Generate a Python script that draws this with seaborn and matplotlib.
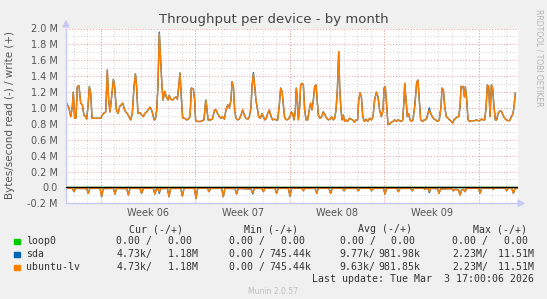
import numpy as np
import pandas as pd
import matplotlib
matplotlib.use('Agg')
import matplotlib.pyplot as plt
import seaborn as sns
from matplotlib.patches import Rectangle, Polygon

sns.set_theme(style='white')
plt.rcParams['font.family'] = ['DejaVu Sans']

# ---------------- data (days since left edge, values in MB/s) ----------------
write_days = [0.00, 0.05, 0.22, 0.35, 0.47, 0.54, 0.64, 0.74, 0.84, 0.96, 1.09, 1.21, 1.33, 1.46, 1.53,
              1.63, 1.73, 1.83, 1.93, 1.98, 2.57, 2.69, 2.77, 2.94, 3.06, 3.16, 3.26, 3.38, 3.51,
              3.60, 3.73, 3.85, 3.98, 4.10, 4.20, 4.30, 4.42, 4.54, 4.67, 4.79, 4.91, 5.04, 5.14,
              5.23, 5.33, 5.48, 5.60, 5.73, 5.83, 5.98, 6.07, 6.22, 6.32, 6.42, 6.52, 6.62, 6.72,
              6.81, 6.91, 7.01, 7.11, 7.19, 7.31, 7.43, 7.56, 7.65, 7.75, 7.88, 8.00, 8.15, 8.25,
              8.35, 8.44, 8.54, 8.64, 8.79, 8.94, 9.06, 9.19, 9.28, 9.43, 9.53, 9.60, 9.68, 9.98,
              10.22, 10.35, 10.42, 10.52, 10.72, 10.84, 11.01, 11.11, 11.23, 11.36, 11.48, 11.60,
              11.73, 11.85, 11.98, 12.10, 12.22, 12.30, 12.40, 12.49, 12.59, 12.72, 12.84, 12.96,
              13.09, 13.21, 13.33, 13.48, 13.58, 13.70, 13.78, 13.88, 13.98, 14.07, 14.17, 14.27,
              14.40, 14.52, 14.62, 14.72, 14.81, 14.94, 15.06, 15.19, 15.31, 15.43, 15.56, 15.68,
              15.80, 15.90, 16.00, 16.10, 16.20, 16.35, 16.47, 16.59, 16.69, 16.79, 16.89, 16.99,
              17.06, 17.14, 17.21, 17.31, 17.38, 17.48, 17.58, 17.68, 17.78, 17.90, 18.02, 18.12,
              18.22, 18.32, 18.42, 18.52, 18.59, 18.69, 18.81, 18.94, 19.06, 19.19, 19.31, 19.43,
              19.56, 19.68, 19.80, 19.90, 20.00, 20.10, 20.20, 20.27, 20.35, 20.44, 20.54, 20.64,
              20.74, 20.86, 20.99, 21.11, 21.23, 21.36, 21.48, 21.60, 21.68, 21.78, 21.88, 21.98,
              22.10, 22.22, 22.35, 22.49, 22.62, 22.74, 22.86, 22.99, 23.11, 23.23, 23.36, 23.48,
              23.56, 23.65, 23.75, 23.85, 23.98, 24.10, 24.22, 24.35, 24.47, 24.59, 24.72, 24.84,
              24.94, 25.04, 25.09, 25.19, 25.28, 25.38, 25.48, 25.58, 25.70, 25.83, 25.98, 26.07,
              26.17, 26.27, 26.40, 26.52, 26.62, 26.72, 26.81, 26.91, 27.01, 27.14, 27.26, 27.38,
              27.51, 27.65, 27.78, 27.85, 27.95, 28.05, 28.17, 28.30, 28.42, 28.54, 28.64, 28.74,
              28.86, 28.99, 29.09, 29.19, 29.26, 29.41, 29.51, 29.58, 29.68, 29.78, 29.90, 30.02,
              30.15, 30.27, 30.40, 30.52, 30.64, 30.77, 30.89, 31.01, 31.11, 31.21, 31.31, 31.41,
              31.51, 31.60, 31.70, 31.80, 31.90, 32.00, 32.12, 32.25, 32.37, 32.49, 32.62, 32.74,
              32.86, 32.99, 33.11, 33.19, 33.28]
write_vals = [1.08, 1.06, 1.00, 0.89, 1.02, 1.20, 0.87, 0.87, 1.27, 1.28, 1.06, 1.04, 0.91, 0.89, 0.86,
              1.02, 1.27, 1.18, 0.87, 0.87, 0.87, 0.91, 0.93, 0.95, 1.48, 1.10, 0.95, 1.14, 1.36,
              1.27, 0.98, 0.93, 1.02, 1.04, 1.06, 1.00, 0.95, 0.93, 0.89, 0.85, 0.93, 1.27, 1.43,
              1.27, 0.93, 0.94, 0.91, 0.89, 0.93, 0.95, 0.975, 1.01, 0.98, 0.93, 0.85, 0.86, 0.975,
              1.27, 1.94, 1.60, 1.27, 1.10, 1.21, 1.14, 1.10, 1.16, 1.11, 1.10, 1.12, 1.14, 1.11,
              1.27, 1.44, 1.14, 0.87, 0.87, 0.85, 0.86, 0.89, 1.25, 1.24, 1.10, 0.85, 0.83, 0.83,
              0.85, 1.10, 1.02, 0.85, 0.85, 0.86, 0.975, 0.975, 0.93, 0.89, 0.87, 0.89,
              0.86, 0.975, 1.04, 1.00, 1.10, 1.33, 1.27, 0.975, 0.87, 0.85, 0.86, 0.91,
              0.975, 0.91, 0.87, 0.86, 0.89, 1.00, 1.27, 1.43, 1.27, 1.10, 1.00, 0.89,
              0.87, 0.93, 0.89, 0.85, 0.86, 0.93, 0.975, 0.89, 0.85, 0.86, 0.85, 0.85,
              1.04, 1.25, 1.21, 1.04, 0.87, 0.85, 0.86, 0.89, 0.95, 0.93, 0.85, 0.975,
              1.25, 1.10, 0.85, 1.02, 1.29, 1.31, 1.29, 0.975, 0.85, 0.85, 0.975, 1.06,
              0.975, 1.10, 1.27, 1.29, 1.14, 0.91, 0.87, 0.89, 0.95, 0.91, 0.87, 0.85,
              0.86, 0.89, 0.85, 0.87, 0.975, 1.23, 1.71, 1.27, 1.02, 0.85, 0.91, 0.83,
              0.85, 0.83, 0.87, 0.86, 0.85, 0.82, 0.85, 0.85, 1.10, 1.19, 1.14, 0.89,
              0.83, 0.86, 0.83, 0.87, 0.85, 0.89, 1.10, 1.20, 1.14, 0.975, 0.89, 0.975,
              1.25, 1.27, 1.02, 0.79, 0.80, 0.82, 0.83, 0.85, 0.83, 0.85, 0.84, 0.83,
              0.85, 1.10, 1.31, 1.10, 0.89, 0.93, 0.85, 0.83, 0.85, 1.02, 1.33, 1.35,
              1.10, 0.85, 0.83, 0.85, 0.85, 0.87, 0.93, 0.975, 0.93, 0.89, 0.86, 0.85,
              0.83, 0.85, 1.02, 1.25, 1.23, 1.02, 0.89, 0.87, 0.85, 0.83, 0.81, 0.85,
              0.87, 0.89, 0.89, 1.02, 1.27, 1.27, 1.14, 1.27, 1.10, 0.85, 0.83, 0.84,
              0.84, 0.84, 0.85, 0.84, 0.84, 0.86, 0.85, 0.85, 0.996, 1.29, 1.27, 0.89,
              1.29, 1.25, 1.02, 0.85, 0.85, 0.93, 0.96, 0.96, 0.91, 0.87, 0.85, 0.84,
              0.84, 0.89, 0.93, 1.02, 1.19]
# sda differs from ubuntu-lv only at a few samples (day -> value)
sda_write_diffs = {6.91: 1.955, 13.88: 1.445, 26.91: 1.00}

read_days = [0.00, 0.47, 0.59, 0.71, 1.53, 1.65, 1.77, 2.52, 2.64, 2.76, 3.51, 3.63, 3.75,
             4.50, 4.62, 4.74, 5.48, 5.60, 5.72, 6.47, 6.59, 6.71, 6.81, 6.91, 7.01,
             7.51, 7.63, 7.75, 8.50, 8.62, 8.74, 9.51, 9.63, 9.75, 10.47, 10.59, 10.71,
             11.53, 11.65, 11.77, 12.52, 12.64, 12.76, 13.71, 13.83, 13.95, 14.50, 14.62, 14.74,
             15.48, 15.60, 15.72, 16.47, 16.59, 16.71, 17.46, 17.58, 17.70, 18.45, 18.57, 18.69,
             19.48, 19.60, 19.72, 20.47, 20.59, 20.71, 21.53, 21.65, 21.77, 22.52, 22.64, 22.76,
             23.51, 23.63, 23.75, 24.50, 24.62, 24.74, 25.53, 25.65, 25.77, 26.47, 26.59, 26.71,
             26.81, 26.91, 27.01, 27.51, 27.63, 27.75, 28.57, 28.69, 28.81, 29.07, 29.19, 29.31,
             29.44, 29.56, 29.68, 30.55, 30.67, 30.79, 31.53, 31.65, 31.77, 32.52, 32.64, 32.76,
             33.02, 33.14, 33.26, 33.48]
read_vals = [-0.010, -0.012, -0.054, -0.012, -0.014, -0.075, -0.012, -0.012, -0.117, -0.014, -0.012, -0.083, -0.012,
             -0.015, -0.096, -0.012, -0.012, -0.075, -0.012, -0.012, -0.083, -0.015, -0.012, -0.060, -0.014,
             -0.012, -0.117, -0.012, -0.012, -0.108, -0.012, -0.012, -0.140, -0.012, -0.010, -0.054, -0.012,
             -0.012, -0.117, -0.012, -0.014, -0.083, -0.012, -0.020, -0.070, -0.012, -0.012, -0.054, -0.010,
             -0.012, -0.075, -0.012, -0.012, -0.108, -0.012, -0.010, -0.042, -0.012, -0.012, -0.075, -0.010,
             -0.012, -0.075, -0.012, -0.010, -0.042, -0.012, -0.012, -0.042, -0.010, -0.012, -0.042, -0.012,
             -0.012, -0.083, -0.012, -0.010, -0.054, -0.012, -0.012, -0.042, -0.012, -0.008, -0.025, -0.010,
             -0.012, -0.054, -0.012, -0.015, -0.075, -0.020, -0.015, -0.042, -0.025, -0.030, -0.096, -0.030,
             -0.025, -0.054, -0.012, -0.010, -0.075, -0.010, -0.005, -0.025, -0.005, -0.010, -0.042, -0.010,
             -0.012, -0.075, -0.012, -0.010]
sda_read_diffs = {6.91: -0.075, 13.83: -0.082, 26.91: -0.066}

loop0_days = [0.00, 33.48]
loop0_vals = [0.0, 0.0]

week_bounds = [2.59, 9.59, 16.59, 23.59, 30.59]
day_lines = [0.59 + i for i in range(33)]
week_label_pos = [6.09, 13.09, 20.09, 27.09]
week_labels = ['Week 06', 'Week 07', 'Week 08', 'Week 09']
y_ticks = [-0.2, 0.0, 0.2, 0.4, 0.6, 0.8, 1.0, 1.2, 1.4, 1.6, 1.8, 2.0]
y_labels = ['-0.2 M', '0.0', '0.2 M', '0.4 M', '0.6 M', '0.8 M', '1.0 M', '1.2 M', '1.4 M',
            '1.6 M', '1.8 M', '2.0 M']
y_minor = [-0.1, 0.1, 0.3, 0.5, 0.7, 0.9, 1.1, 1.3, 1.5, 1.7, 1.9]

devices = ['loop0', 'sda', 'ubuntu-lv']
colors = {'loop0': '#00CC00', 'sda': '#0066B3', 'ubuntu-lv': '#FF8000'}
cur_r = ['0.00 /', '4.73k/', '4.73k/']
cur_w = ['  0.00 ', '  1.18M', '  1.18M']
min_r = ['0.00 /', '0.00 /', '0.00 /']
min_w = ['  0.00 ', '745.44k', '745.44k']
avg_r = ['0.00 /', '9.77k/', '9.63k/']
avg_w = ['  0.00 ', '981.98k', '981.85k']
max_r = ['0.00 /', '2.23M/', '2.23M/']
max_w = ['  0.00 ', ' 11.51M', ' 11.51M']

# ---------------- build frames ----------------
ulv_w = pd.DataFrame({'day': write_days, 'v': write_vals})
sda_w = ulv_w.copy()
for d, v in sda_write_diffs.items():
    sda_w.loc[np.isclose(sda_w['day'], d), 'v'] = v
ulv_r = pd.DataFrame({'day': read_days, 'v': read_vals})
sda_r = ulv_r.copy()
for d, v in sda_read_diffs.items():
    sda_r.loc[np.isclose(sda_r['day'], d), 'v'] = v
loop = pd.DataFrame({'day': loop0_days, 'v': loop0_vals})

# ---------------- figure ----------------
W, H = 547, 299
fig = plt.figure(figsize=(W / 100, H / 100), dpi=100, facecolor='#f0f0f0')
L, R, T, B = 66, 518, 28.5, 203.3
ax = fig.add_axes([L / W, 1 - B / H, (R - L) / W, (B - T) / H])
ax.set_facecolor('white')

ax.set_xlim(0, 33.48)
ax.set_ylim(-0.2, 2.0)

# grid
for d in day_lines:
    ax.axvline(d, color='#d2d2d2', lw=0.7, ls=(0, (1, 2)), zorder=0)
for d in week_bounds:
    ax.axvline(d, color='#ee9a9a', lw=0.7, ls=(0, (1, 2)), zorder=0.5)
for y in y_minor:
    ax.axhline(y, color='#d2d2d2', lw=0.7, ls=(0, (1, 2)), zorder=0)
for y in y_ticks:
    ax.axhline(y, color='#ee9a9a', lw=0.7, ls=(0, (1, 2)), zorder=0.5)

kw = dict(estimator=None, sort=False, legend=False, ax=ax, lw=1.0)
sns.lineplot(data=loop, x='day', y='v', color=colors['loop0'], **kw)
sns.lineplot(data=sda_w, x='day', y='v', color=colors['sda'], **kw)
sns.lineplot(data=sda_r, x='day', y='v', color=colors['sda'], **kw)
sns.lineplot(data=ulv_w, x='day', y='v', color=colors['ubuntu-lv'], **kw)
sns.lineplot(data=ulv_r, x='day', y='v', color=colors['ubuntu-lv'], **kw)
ax.axhline(0, color='black', lw=1.0, zorder=5)

ax.set_xlabel('')
ax.set_ylabel('')
ax.set_xticks([])
ax.set_yticks(y_ticks)
ax.set_yticklabels(y_labels)
ax.tick_params(axis='y', length=0, pad=6, labelsize=7, labelcolor='#555555')
for lx, lab in zip(week_label_pos, week_labels):
    ax.text(lx, -0.055, lab, transform=ax.get_xaxis_transform(), ha='center', va='center',
            fontsize=7, color='#555555')

for s in ['top', 'right']:
    ax.spines[s].set_visible(False)
for s in ['left', 'bottom']:
    ax.spines[s].set_color('#c8c8f4')
    ax.spines[s].set_linewidth(1.0)

# axis arrows
fig.patches.append(Polygon([[(L - 3) / W, 1 - 27 / H], [(L + 3) / W, 1 - 27 / H], [L / W, 1 - 21 / H]],
                           closed=True, transform=fig.transFigure, color='#c8c8f4'))
fig.patches.append(Polygon([[R / W, 1 - (B - 3) / H], [R / W, 1 - (B + 3) / H], [(R + 6) / W, 1 - B / H]],
                           closed=True, transform=fig.transFigure, color='#c8c8f4'))

def ft(x, y, s, **k):
    fig.text(x / W, 1 - y / H, s, **k)

ft(W / 2, 19.5, 'Throughput per device - by month', ha='center', va='center', fontsize=9.5, color='#444444')
ft(10, 115, 'Bytes/second read (-) / write (+)', ha='center', va='center', rotation=90,
   fontsize=7.5, color='#555555')
ft(539, 58, 'RRDTOOL / TOBI OETIKER', ha='center', va='center', rotation=270, fontsize=5.5, color='#b4b4b4')

mono = dict(family='DejaVu Sans Mono', fontsize=7.15, color='#333333', va='center', ha='left')
hdr_y = 229.2
ft(129.1, hdr_y, 'Cur (-/+)', **mono)
ft(243.6, hdr_y, 'Min (-/+)', **mono)
ft(358.5, hdr_y, 'Avg (-/+)', **mono)
ft(473.0, hdr_y, 'Max (-/+)', **mono)
row_y = [241.4, 254.3, 267.3]
for i, dev in enumerate(devices):
    y = row_y[i]
    fig.patches.append(Rectangle((14 / W, 1 - (y + 3) / H), 5.5 / W, 5.5 / H,
                                 transform=fig.transFigure, color=colors[dev]))
    ft(26.2, y, dev, **mono)
    ft(116.2, y, cur_r[i], **mono)
    ft(156.2, y, cur_w[i], **mono)
    ft(228.6, y, min_r[i], **mono)
    ft(268.8, y, min_w[i], **mono)
    ft(339.6, y, avg_r[i], **mono)
    ft(378.7, y, avg_w[i], **mono)
    ft(452.0, y, max_r[i], **mono)
    ft(491.7, y, max_w[i], **mono)
ft(533.5, 279.1, 'Last update: Tue Mar  3 17:00:06 2026', **{**mono, 'ha': 'right'})
ft(W / 2, 292.0, 'Munin 2.0.57', ha='center', va='center', fontsize=5.5, color='#c0c0c0')

fig.savefig('out.png', dpi=100, facecolor=fig.get_facecolor())
